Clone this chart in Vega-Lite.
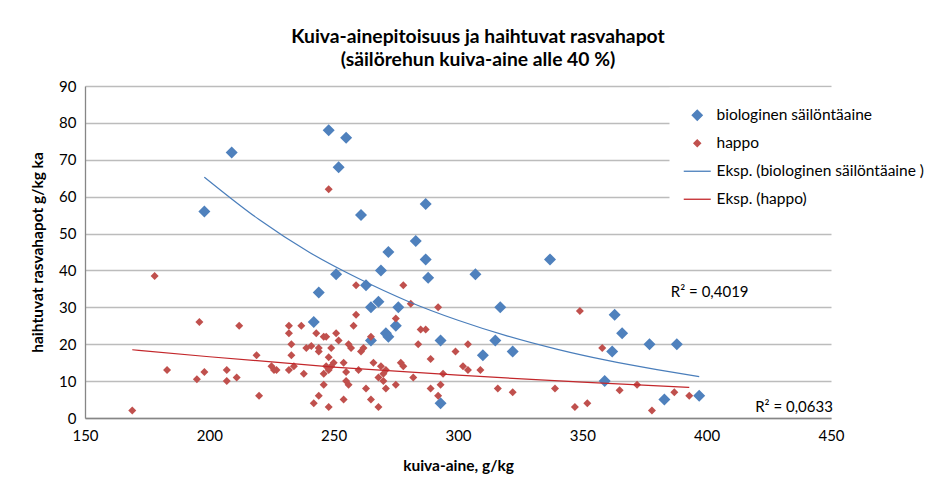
{
  "$schema": "https://vega.github.io/schema/vega-lite/v6.json",
  "width": 746,
  "height": 332,
  "autosize": "none",
  "padding": {"left": 85, "top": 86, "right": 109, "bottom": 59},
  "background": "white",
  "title": {
    "text": ["Kuiva-ainepitoisuus ja haihtuvat rasvahapot", "(säilörehun kuiva-aine alle 40 %)"],
    "font": "Lato",
    "fontSize": 19.3,
    "fontWeight": "bold",
    "color": "black",
    "anchor": "middle",
    "frame": "group",
    "dx": 20,
    "offset": 9,
    "lineHeight": 23
  },
  "config": {
    "view": {"stroke": null},
    "font": "Lato",
    "axis": {"labelFont": "Lato", "titleFont": "Lato", "labelColor": "black", "titleColor": "black"}
  },
  "datasets": {
    "trend": [
      {"t": "EB", "x": 198, "y": 65.3},
      {"t": "EB", "x": 220, "y": 53.8},
      {"t": "EB", "x": 240, "y": 45.0},
      {"t": "EB", "x": 260, "y": 37.8},
      {"t": "EB", "x": 280, "y": 31.6},
      {"t": "EB", "x": 300, "y": 26.5},
      {"t": "EB", "x": 320, "y": 22.2},
      {"t": "EB", "x": 340, "y": 18.6},
      {"t": "EB", "x": 360, "y": 15.6},
      {"t": "EB", "x": 380, "y": 13.1},
      {"t": "EB", "x": 397, "y": 11.2},
      {"t": "EH", "x": 169, "y": 18.5},
      {"t": "EH", "x": 200, "y": 16.6},
      {"t": "EH", "x": 250, "y": 13.8},
      {"t": "EH", "x": 300, "y": 11.6},
      {"t": "EH", "x": 350, "y": 9.7},
      {"t": "EH", "x": 393, "y": 8.3}
    ],
    "labels": [
      {"x": 385.6, "y": 34.1, "label": "R² = 0,4019"},
      {"x": 419.5, "y": 2.9, "label": "R² = 0,0633"}
    ]
  },
  "data": {
    "values": [
      {"s": "B", "x": 198, "y": 56},
      {"s": "B", "x": 209, "y": 72},
      {"s": "B", "x": 242, "y": 26},
      {"s": "B", "x": 244, "y": 34},
      {"s": "B", "x": 248, "y": 78},
      {"s": "B", "x": 251, "y": 39},
      {"s": "B", "x": 252, "y": 68},
      {"s": "B", "x": 255, "y": 76},
      {"s": "B", "x": 261, "y": 55},
      {"s": "B", "x": 263, "y": 36},
      {"s": "B", "x": 265, "y": 30},
      {"s": "B", "x": 265, "y": 21},
      {"s": "B", "x": 268, "y": 31.5},
      {"s": "B", "x": 269, "y": 40},
      {"s": "B", "x": 271, "y": 23},
      {"s": "B", "x": 272, "y": 22},
      {"s": "B", "x": 272, "y": 45},
      {"s": "B", "x": 275, "y": 25},
      {"s": "B", "x": 276, "y": 30},
      {"s": "B", "x": 283, "y": 48},
      {"s": "B", "x": 287, "y": 58},
      {"s": "B", "x": 287, "y": 43},
      {"s": "B", "x": 288, "y": 38},
      {"s": "B", "x": 293, "y": 21},
      {"s": "B", "x": 293, "y": 4},
      {"s": "B", "x": 307, "y": 39},
      {"s": "B", "x": 310, "y": 17},
      {"s": "B", "x": 315, "y": 21},
      {"s": "B", "x": 317, "y": 30},
      {"s": "B", "x": 322, "y": 18},
      {"s": "B", "x": 337, "y": 43},
      {"s": "B", "x": 359, "y": 10},
      {"s": "B", "x": 362, "y": 18},
      {"s": "B", "x": 363, "y": 28},
      {"s": "B", "x": 366, "y": 23},
      {"s": "B", "x": 377, "y": 20},
      {"s": "B", "x": 383, "y": 5},
      {"s": "B", "x": 388, "y": 20},
      {"s": "B", "x": 397, "y": 6},
      {"s": "H", "x": 169, "y": 2},
      {"s": "H", "x": 178, "y": 38.5},
      {"s": "H", "x": 183, "y": 13},
      {"s": "H", "x": 195, "y": 10.5},
      {"s": "H", "x": 196, "y": 26},
      {"s": "H", "x": 198, "y": 12.5},
      {"s": "H", "x": 207, "y": 13},
      {"s": "H", "x": 207, "y": 10},
      {"s": "H", "x": 211, "y": 11},
      {"s": "H", "x": 212, "y": 25},
      {"s": "H", "x": 219, "y": 17},
      {"s": "H", "x": 220, "y": 6},
      {"s": "H", "x": 225, "y": 14},
      {"s": "H", "x": 226, "y": 13},
      {"s": "H", "x": 227, "y": 13},
      {"s": "H", "x": 232, "y": 25},
      {"s": "H", "x": 232, "y": 23},
      {"s": "H", "x": 233, "y": 20},
      {"s": "H", "x": 233, "y": 17},
      {"s": "H", "x": 232, "y": 13},
      {"s": "H", "x": 234, "y": 14},
      {"s": "H", "x": 237, "y": 25},
      {"s": "H", "x": 238, "y": 12},
      {"s": "H", "x": 239, "y": 19},
      {"s": "H", "x": 241, "y": 19.5},
      {"s": "H", "x": 242, "y": 4},
      {"s": "H", "x": 243, "y": 23},
      {"s": "H", "x": 244, "y": 19},
      {"s": "H", "x": 244, "y": 18},
      {"s": "H", "x": 244, "y": 6},
      {"s": "H", "x": 246, "y": 22},
      {"s": "H", "x": 247, "y": 22},
      {"s": "H", "x": 246, "y": 12},
      {"s": "H", "x": 246, "y": 9},
      {"s": "H", "x": 247, "y": 14},
      {"s": "H", "x": 248, "y": 13},
      {"s": "H", "x": 248, "y": 16.5},
      {"s": "H", "x": 248, "y": 62},
      {"s": "H", "x": 248, "y": 3},
      {"s": "H", "x": 249, "y": 19},
      {"s": "H", "x": 249, "y": 14},
      {"s": "H", "x": 250, "y": 15},
      {"s": "H", "x": 251, "y": 23},
      {"s": "H", "x": 252, "y": 21},
      {"s": "H", "x": 254, "y": 15},
      {"s": "H", "x": 254, "y": 5},
      {"s": "H", "x": 255, "y": 12.5},
      {"s": "H", "x": 255, "y": 10},
      {"s": "H", "x": 256, "y": 9},
      {"s": "H", "x": 256, "y": 20},
      {"s": "H", "x": 257, "y": 19},
      {"s": "H", "x": 258, "y": 25},
      {"s": "H", "x": 259, "y": 28},
      {"s": "H", "x": 259, "y": 36},
      {"s": "H", "x": 260, "y": 13},
      {"s": "H", "x": 261, "y": 18},
      {"s": "H", "x": 262, "y": 19},
      {"s": "H", "x": 263, "y": 8},
      {"s": "H", "x": 265, "y": 22},
      {"s": "H", "x": 265, "y": 5},
      {"s": "H", "x": 266, "y": 15},
      {"s": "H", "x": 268, "y": 11},
      {"s": "H", "x": 268, "y": 3},
      {"s": "H", "x": 269, "y": 14},
      {"s": "H", "x": 270, "y": 12},
      {"s": "H", "x": 270, "y": 10},
      {"s": "H", "x": 271, "y": 13},
      {"s": "H", "x": 271, "y": 8},
      {"s": "H", "x": 275, "y": 27},
      {"s": "H", "x": 275, "y": 9},
      {"s": "H", "x": 277, "y": 15},
      {"s": "H", "x": 278, "y": 14},
      {"s": "H", "x": 278, "y": 36},
      {"s": "H", "x": 281, "y": 31},
      {"s": "H", "x": 282, "y": 11},
      {"s": "H", "x": 284, "y": 20},
      {"s": "H", "x": 285, "y": 24},
      {"s": "H", "x": 287, "y": 24},
      {"s": "H", "x": 289, "y": 16},
      {"s": "H", "x": 289, "y": 8},
      {"s": "H", "x": 292, "y": 30},
      {"s": "H", "x": 292, "y": 6},
      {"s": "H", "x": 293, "y": 9},
      {"s": "H", "x": 294, "y": 12},
      {"s": "H", "x": 299, "y": 18},
      {"s": "H", "x": 302, "y": 14},
      {"s": "H", "x": 304, "y": 20},
      {"s": "H", "x": 304, "y": 13},
      {"s": "H", "x": 309, "y": 13},
      {"s": "H", "x": 316, "y": 8},
      {"s": "H", "x": 322, "y": 7},
      {"s": "H", "x": 339, "y": 8},
      {"s": "H", "x": 347, "y": 3},
      {"s": "H", "x": 349, "y": 29},
      {"s": "H", "x": 352, "y": 4},
      {"s": "H", "x": 358, "y": 19},
      {"s": "H", "x": 365, "y": 7.5},
      {"s": "H", "x": 372, "y": 9},
      {"s": "H", "x": 378, "y": 2},
      {"s": "H", "x": 387, "y": 7},
      {"s": "H", "x": 393, "y": 6}
    ]
  },
  "encoding": {
    "x": {
      "field": "x", "type": "quantitative",
      "scale": {"domain": [150, 450], "nice": false, "zero": false},
      "axis": {
        "values": [150, 200, 250, 300, 350, 400, 450],
        "grid": false, "ticks": false, "labelFlush": false,
        "domainColor": "#868686", "domainWidth": 1.3,
        "labelFontSize": 15, "labelPadding": 10,
        "title": "kuiva-aine, g/kg", "titleFontSize": 15.5, "titleFontWeight": "bold", "titlePadding": 15
      }
    },
    "y": {
      "field": "y", "type": "quantitative",
      "scale": {"domain": [0, 90], "nice": false},
      "axis": {
        "values": [0, 10, 20, 30, 40, 50, 60, 70, 80, 90],
        "labelOverlap": false, "labelFlush": false,
        "grid": true, "gridColor": "#bcbcbc", "gridWidth": 1.3,
        "ticks": false,
        "domainColor": "#868686", "domainWidth": 1.3,
        "labelFontSize": 15, "labelPadding": 9,
        "title": "haihtuvat rasvahapot g/kg ka", "titleFontSize": 15.5, "titleFontWeight": "bold", "titlePadding": 13
      }
    }
  },
  "layer": [
    {
      "mark": {"type": "point", "filled": true, "opacity": 1, "size": 144},
      "encoding": {
        "color": {
          "field": "s", "type": "nominal",
          "scale": {"domain": ["B", "H", "EB", "EH"], "range": ["#4f81bd", "#c0504d", "#4a7ebb", "#c3272b"]},
          "legend": {
            "title": null,
            "orient": "none",
            "legendX": 584.5,
            "legendY": 1.5,
            "fillColor": "white",
            "padding": 20,
            "labelFont": "Lato",
            "labelFontSize": 15.5,
            "labelColor": "black",
            "labelOffset": 11.5,
            "labelLimit": 400,
            "rowPadding": 11,
            "symbolSize": 100,
            "symbolStrokeWidth": 1.3,
            "labelExpr": "datum.label == 'B' ? 'biologinen säilöntäaine' : datum.label == 'H' ? 'happo' : datum.label == 'EB' ? 'Eksp. (biologinen säilöntäaine )' : 'Eksp. (happo)'",
            "encode": {
              "symbols": {
                "update": {
                  "stroke": {"scale": "color", "field": "value"},
                  "strokeWidth": {"signal": "datum.value == 'EB' || datum.value == 'EH' ? 1.3 : 0"}
                }
              }
            }
          }
        },
        "shape": {
          "field": "s", "type": "nominal",
          "scale": {
            "domain": ["B", "H", "EB", "EH"],
            "range": ["M-1,0L0,-1L1,0L0,1Z", "M-0.667,0L0,-0.667L0.667,0L0,0.667Z", "M-2.7,0L2.7,0", "M-2.7,0L2.7,0"]
          }
        }
      }
    },
    {
      "data": {"name": "trend"},
      "mark": {"type": "line", "strokeWidth": 1.2, "interpolate": "monotone"},
      "encoding": {
        "color": {"field": "t", "type": "nominal"}
      }
    },
    {
      "data": {"name": "labels"},
      "mark": {"type": "text", "align": "left", "baseline": "middle", "fontSize": 15, "font": "Lato", "color": "black"},
      "encoding": {
        "text": {"field": "label"}
      }
    }
  ]
}
